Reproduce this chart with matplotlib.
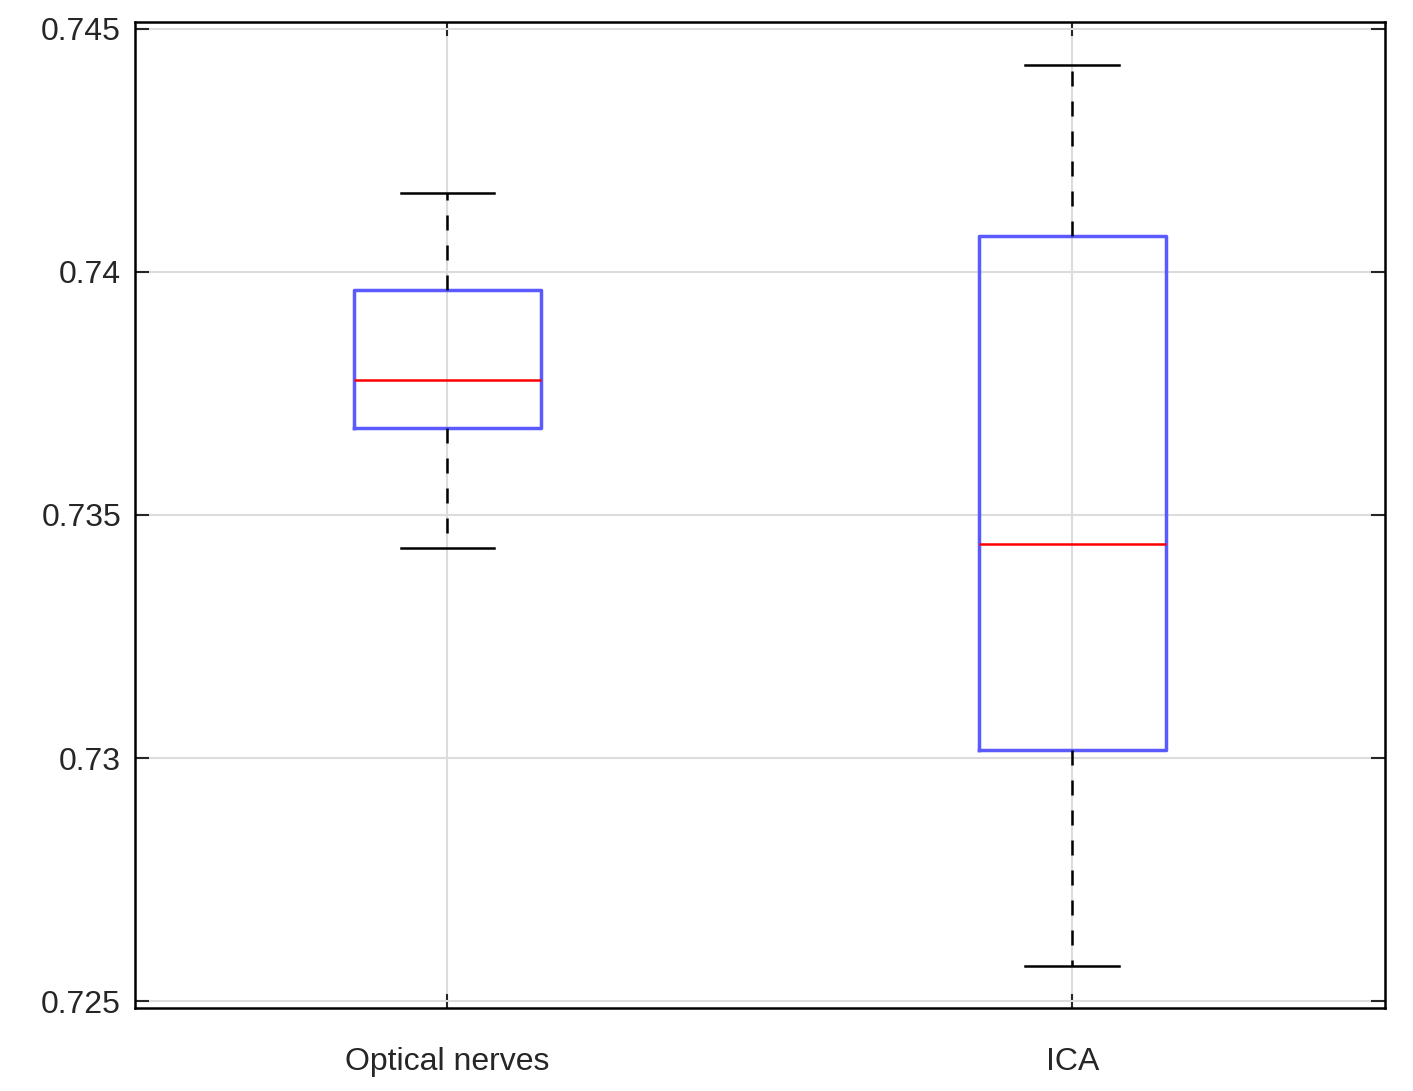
import matplotlib
matplotlib.use("Agg")
import matplotlib.pyplot as plt

plt.rcParams['font.family'] = ['Liberation Sans', 'DejaVu Sans']

categories = ["Optical nerves", "ICA"]
whislo = [0.73432, 0.72572]
q1 = [0.73679, 0.73016]
med = [0.73778, 0.73440]
q3 = [0.73963, 0.74074]
whishi = [0.74163, 0.74426]
yticks = [0.725, 0.73, 0.735, 0.74, 0.745]
ytick_labels = ["0.725", "0.73", "0.735", "0.74", "0.745"]

fig = plt.figure(figsize=(14.13, 10.91), dpi=100)
ax = fig.add_axes([0.0955, 0.076, 0.8845, 0.904])
stats = [dict(label=c, whislo=a, q1=b, med=m, q3=d, whishi=e, fliers=[])
         for c, a, b, m, d, e in zip(categories, whislo, q1, med, q3, whishi)]
ax.bxp(stats, positions=[1, 2], widths=0.3, showfliers=False,
       boxprops=dict(color="#5a5aff", linewidth=2.5),
       medianprops=dict(color="red", linewidth=1.8),
       whiskerprops=dict(color="black", linewidth=1.8, linestyle=(0, (6, 6))),
       capprops=dict(color="black", linewidth=1.8), capwidths=0.15)
ax.set_xlim(0.5, 2.5)
ax.set_ylim(0.72486, 0.74514)
ax.set_yticks(yticks)
ax.set_yticklabels(ytick_labels)
ax.set_xticks([1, 2])
ax.set_xticklabels(categories)
ax.grid(True, color="#dcdcdc", linewidth=1.5)
ax.set_axisbelow(True)
ax.tick_params(direction="in", length=10, width=1.5, labelsize=23,
               colors="#262626", top=True, right=True, pad=10)
ax.tick_params(axis="x", pad=28)
for s in ax.spines.values():
    s.set_linewidth(1.8)
fig.savefig("out.png", dpi=100)
